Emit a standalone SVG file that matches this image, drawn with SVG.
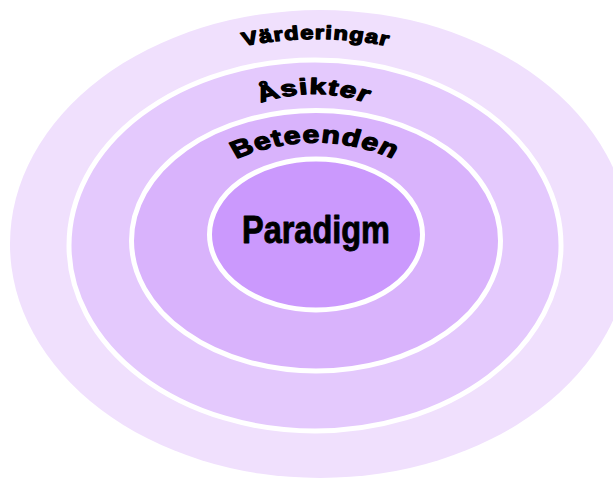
<svg xmlns="http://www.w3.org/2000/svg" width="613" height="479" viewBox="0 0 613 479">
  <style>
    .ring { stroke: #ffffff; stroke-width: 5; }
    .arc { font-family: "Liberation Sans", Arial, sans-serif; font-weight: bold; fill: #000; stroke: #000; stroke-width: 1.3; stroke-linejoin: round; letter-spacing: 1px; }
    .center { font-family: "Liberation Sans Narrow", "Liberation Sans", Arial, sans-serif; font-weight: bold; fill: #000; stroke: #000; stroke-width: 0.9; stroke-linejoin: round; }
  </style>
  <defs>
    <path id="pV" d="M 244 50 Q 316 28 388 50"/>
    <path id="pA" d="M 272 104 Q 314 84 356 104"/>
    <path id="pB" d="M 252 159 Q 315 126 378 159"/>
  </defs>
  <rect width="613" height="479" fill="#ffffff"/>
  <g id="varderingar">
    <ellipse cx="320" cy="244" rx="310" ry="234" fill="#F0E0FD"/>
    <g transform="translate(316 0) scale(1.24 1) translate(-316 0)">
      <text class="arc" font-size="19"><textPath href="#pV" startOffset="50%" text-anchor="middle">Värderingar</textPath></text>
    </g>
  </g>
  <g id="asikter">
    <ellipse class="ring" cx="315" cy="245.5" rx="246" ry="185.5" fill="#E4C9FD"/>
    <g transform="translate(314 0) scale(1.34 1) translate(-314 0)">
      <text class="arc" font-size="22"><textPath href="#pA" startOffset="50%" text-anchor="middle">Åsikter</textPath></text>
    </g>
  </g>
  <g id="beteenden">
    <ellipse class="ring" cx="316" cy="240.75" rx="184.5" ry="130.25" fill="#D9B3FC"/>
    <g transform="translate(315 0) scale(1.25 1) translate(-315 0)">
      <text class="arc" font-size="24"><textPath href="#pB" startOffset="50%" text-anchor="middle">Beteenden</textPath></text>
    </g>
  </g>
  <g id="paradigm">
    <ellipse class="ring" cx="316" cy="234.5" rx="106.5" ry="75.5" fill="#CB99FD"/>
    <text class="center" x="242" y="243" font-size="38" textLength="148" lengthAdjust="spacingAndGlyphs">Paradigm</text>
  </g>
  <g id="connectors"/>
</svg>
